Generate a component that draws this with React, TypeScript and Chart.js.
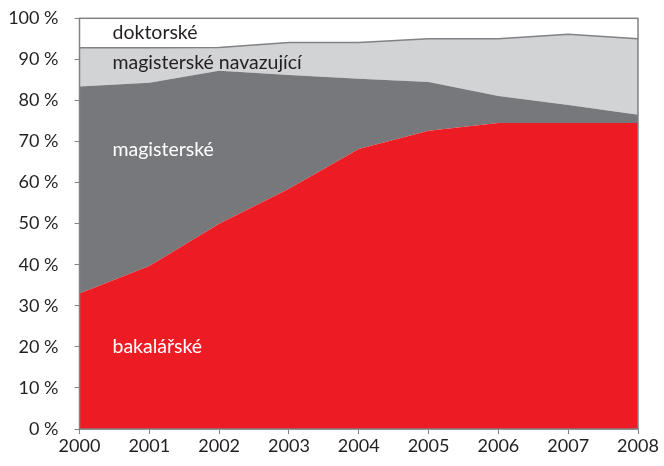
import React, { useEffect, useRef } from "react";
import { Chart, registerables } from "chart.js";

Chart.register(...registerables);

const years = ["2000", "2001", "2002", "2003", "2004", "2005", "2006", "2007", "2008"];
const bakalarske = [33, 39.7, 50, 58.5, 68.2, 72.6, 74.5, 74.5, 74.5];
const magisterske = [50.4, 44.6, 37.2, 27.7, 17.1, 11.9, 6.6, 4.4, 2.0];
const navazujici = [9.4, 8.5, 5.7, 7.9, 8.8, 10.5, 13.9, 17.2, 18.5];
const doktorske = [7.2, 7.2, 7.1, 5.9, 5.9, 5.0, 5.0, 3.9, 5.0];
const seriesNames = ["bakalářské", "magisterské", "magisterské navazující", "doktorské"];

const FONT = "Lato, 'Open Sans', sans-serif";
const TEXT = "#231F20";
const LINE = "#808285";

const areaLabels = {
  id: "areaLabels",
  afterDatasetsDraw(chart: any) {
    const { ctx, chartArea, scales } = chart;
    const y = scales.y;
    const x0 = chartArea.left + 33;
    const items = [
      { t: seriesNames[3], v: 96.4, c: TEXT },
      { t: seriesNames[2], v: 89.3, c: TEXT },
      { t: seriesNames[1], v: 67.9, c: "#FFFFFF" },
      { t: seriesNames[0], v: 20.1, c: "#FFFFFF" },
    ];
    ctx.save();
    ctx.font = `19.5px ${FONT}`;
    ctx.textBaseline = "middle";
    ctx.textAlign = "left";
    for (const it of items) {
      ctx.fillStyle = it.c;
      ctx.fillText(it.t, x0, y.getPixelForValue(it.v));
    }
    ctx.strokeStyle = LINE;
    ctx.lineWidth = 1.5;
    ctx.strokeRect(chartArea.left, chartArea.top, chartArea.right - chartArea.left, chartArea.bottom - chartArea.top);
    ctx.restore();
  },
};

export default function App() {
  const ref = useRef<HTMLCanvasElement>(null);
  useEffect(() => {
    const chart = new Chart(ref.current!, {
      type: "line",
      data: {
        labels: years,
        datasets: [
          { label: seriesNames[0], data: bakalarske, backgroundColor: "#ED1C24", borderWidth: 0, fill: "origin", pointRadius: 0 },
          { label: seriesNames[1], data: magisterske, backgroundColor: "#77787B", borderWidth: 0, fill: "-1", pointRadius: 0 },
          { label: seriesNames[2], data: navazujici, backgroundColor: "#D1D3D4", borderColor: LINE, borderWidth: 1.5, fill: "-1", pointRadius: 0 },
          { label: seriesNames[3], data: doktorske, backgroundColor: "#FFFFFF", borderColor: LINE, borderWidth: 1.5, fill: "-1", pointRadius: 0 },
        ],
      },
      options: {
        responsive: false,
        animation: false,
        layout: { padding: { top: 18.3, right: 26, left: 0, bottom: 0 } },
        plugins: { legend: { display: false }, tooltip: { enabled: false } },
        scales: {
          x: {
            offset: false,
            grid: { drawOnChartArea: false, drawTicks: true, tickLength: 5, color: LINE },
            border: { display: true, color: LINE, width: 1.5 },
            ticks: { color: TEXT, font: { family: FONT, size: 18 }, padding: 1, maxRotation: 0, autoSkip: false },
            afterFit: (s: any) => { s.height = 37; },
          },
          y: {
            stacked: true,
            min: 0,
            max: 100,
            grid: { drawOnChartArea: false, drawTicks: true, tickLength: 5, color: LINE },
            border: { display: true, color: LINE, width: 1.5 },
            ticks: { stepSize: 10, color: TEXT, font: { family: FONT, size: 18 }, padding: 16, callback: (v: any) => `${v} %` },
            afterFit: (s: any) => { s.width = 79.5; s.paddingTop = 0; s.paddingBottom = 0; },
          },
        },
      },
      plugins: [areaLabels],
    });
    return () => chart.destroy();
  }, []);
  return (
    <div style={{ position: "fixed", left: 0, top: 0, width: 664, height: 466, background: "#fff" }}>
      <canvas ref={ref} width={664} height={466} />
    </div>
  );
}
